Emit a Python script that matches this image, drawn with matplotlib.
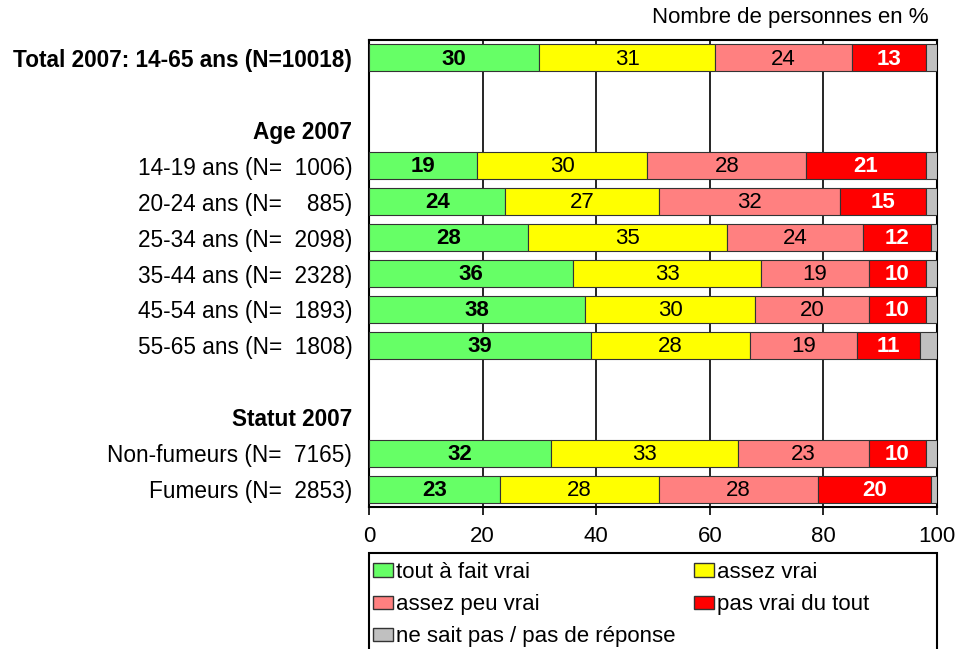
import matplotlib
matplotlib.use("Agg")
import matplotlib.pyplot as plt
from matplotlib.patches import Patch, Rectangle

plt.rcParams["font.family"] = ["Liberation Sans", "DejaVu Sans"]

# rows from top to bottom; empty label = spacer row
row_labels = [
    "Total 2007: 14-65 ans (N=10018)",
    "",
    "Age 2007",
    "14-19 ans (N=  1006)",
    "20-24 ans (N=    885)",
    "25-34 ans (N=  2098)",
    "35-44 ans (N=  2328)",
    "45-54 ans (N=  1893)",
    "55-65 ans (N=  1808)",
    "",
    "Statut 2007",
    "Non-fumeurs (N=  7165)",
    "Fumeurs (N=  2853)",
]
bold_rows = [0, 2, 10]

tout_a_fait = [30, None, None, 19, 24, 28, 36, 38, 39, None, None, 32, 23]
assez_vrai = [31, None, None, 30, 27, 35, 33, 30, 28, None, None, 33, 28]
assez_peu = [24, None, None, 28, 32, 24, 19, 20, 19, None, None, 23, 28]
pas_vrai = [13, None, None, 21, 15, 12, 10, 10, 11, None, None, 10, 20]
ne_sait_pas = [2, None, None, 2, 2, 1, 2, 2, 3, None, None, 2, 1]

series_names = ["tout à fait vrai", "assez vrai", "assez peu vrai",
                "pas vrai du tout", "ne sait pas / pas de réponse"]
series = [tout_a_fait, assez_vrai, assez_peu, pas_vrai, ne_sait_pas]
colors = ["#66FF66", "#FFFF00", "#FF8080", "#FF0000", "#C0C0C0"]
label_style = [("black", "bold"), ("black", "normal"), ("black", "normal"),
               ("white", "bold"), None]

W, H = 959, 649
fig = plt.figure(figsize=(W / 100, H / 100), dpi=100)
ax = fig.add_axes([369 / W, 1 - 507 / H, (937 - 369) / W, (507 - 40) / H])

n = len(row_labels)
ypos = list(range(n))
left = [0] * n
for vals, col, style in zip(series, colors, label_style):
    for i, v in enumerate(vals):
        if v is None:
            continue
        ax.barh(i, v, left=left[i], height=0.75, color=col,
                edgecolor="#333333", linewidth=0.8, zorder=3)
        if style is not None:
            ax.text(left[i] + v / 2, i + 0.03, str(v), ha="center", va="center",
                    color=style[0], fontweight=style[1], fontsize=16, zorder=4)
        left[i] += v

ax.set_xlim(0, 100)
ax.set_ylim(n - 0.5, -0.5)
ax.set_xticks([0, 20, 40, 60, 80, 100])
ax.tick_params(axis="x", labelsize=16, length=6, width=1.2, direction="out", pad=8)
ax.set_yticks(ypos)
ax.set_yticklabels(row_labels, fontsize=16.3)
ax.tick_params(axis="y", length=0, pad=12)
for i in bold_rows:
    ax.get_yticklabels()[i].set_fontweight("bold")
ax.xaxis.grid(True, color="black", linewidth=1.2, zorder=0)
for s in ax.spines.values():
    s.set_linewidth(1.5)

fig.text(928 / W, 1 - 18 / H, "Nombre de personnes en %", ha="right",
         va="center", fontsize=16)

# legend box
fig.patches.append(Rectangle((369 / W, -0.01), (937 - 369) / W, 0.01 + (H - 553) / H,
                             transform=fig.transFigure, facecolor="white",
                             edgecolor="black", linewidth=1.5, zorder=0))
handles = [Patch(facecolor=c, edgecolor="#333333") for c in colors]
order = [0, 2, 4, 1, 3]
leg = fig.legend([handles[k] for k in order], [series_names[k] for k in order],
                 ncol=2, loc="upper left",
                 bbox_to_anchor=(373 / W, 1 - 562 / H),
                 fontsize=16, frameon=False,
                 handlelength=0.9, handleheight=0.55, handletextpad=0.15,
                 borderaxespad=0, borderpad=0, labelspacing=0.5,
                 columnspacing=0.82)

fig.savefig("out.png", dpi=100)
